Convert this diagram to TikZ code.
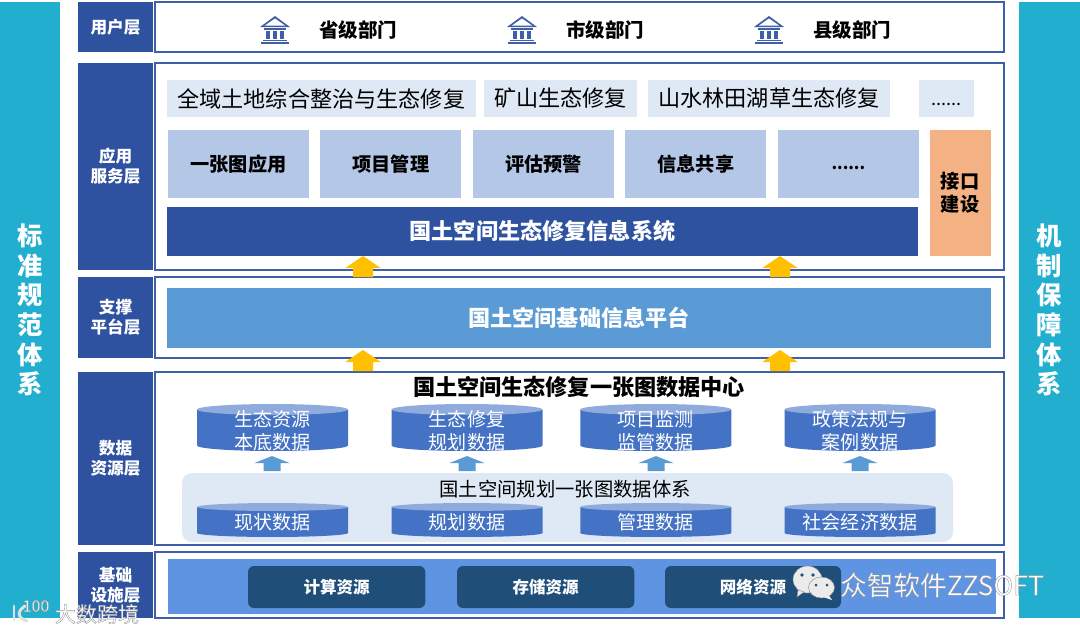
\documentclass[tikz,border=0pt]{standalone}
\usepackage{fontspec}
\setmainfont{Noto Sans CJK SC}
\usetikzlibrary{positioning}
\definecolor{sidecyan}{HTML}{21AECF}
\definecolor{layerblue}{HTML}{2F52A0}
\definecolor{framecolor}{HTML}{3F5FA6}
\definecolor{lightcell}{HTML}{DEE9F5}
\definecolor{midcell}{HTML}{B4C7E7}
\definecolor{orangecell}{HTML}{F4B183}
\definecolor{platblue}{HTML}{5B9BD5}
\definecolor{dbbody}{HTML}{4472C4}
\definecolor{dbtop}{HTML}{8FAADC}
\definecolor{basefill}{HTML}{5F94E2}
\definecolor{darkcell}{HTML}{1F4E79}
\definecolor{upyellow}{HTML}{FFC000}
\definecolor{markgray}{HTML}{8A8A8A}
\newcommand{\outlinetext}[1]{\special{pdf:literal direct 2 Tr 0.3 w 0.6 G}#1\special{pdf:literal direct 0 Tr}}
\tikzset{
  side/.style={
    fill=sidecyan, text=white, align=center, inner sep=0pt, outer sep=0pt,
    font=\fontsize{19pt}{22.3pt}\selectfont\bfseries,
    minimum width=45pt, minimum height=462pt, anchor=north west,
  },
  layerlbl/.style={
    fill=layerblue, text=white, align=center, inner sep=0pt, outer sep=0pt,
    font=\fontsize{12.5pt}{15pt}\selectfont\bfseries,
    minimum width=56.25pt,
  },
  frame/.style={
    draw=framecolor, line width=1.3pt, fill=white, inner sep=0pt, outer sep=0pt,
    minimum width=636.75pt,
  },
  scene/.style={
    fill=lightcell, inner sep=0pt, outer sep=0pt, minimum height=27.75pt,
    font=\fontsize{16.6pt}{20pt}\selectfont,
  },
  func/.style={
    fill=midcell, inner sep=0pt, outer sep=0pt,
    minimum width=105.75pt, minimum height=51pt,
    font=\fontsize{14.4pt}{17pt}\selectfont\bfseries,
  },
  bar/.style={
    fill=#1, text=white, inner sep=0pt, outer sep=0pt, anchor=north west,
    font=\fontsize{16.6pt}{20pt}\selectfont\bfseries,
  },
  dbcyl/.pic={
    \fill[dbbody] (-75.5,-#1) -- (-75.5,#1)
      arc[start angle=180, end angle=0, x radius=75.5, y radius=.305*#1]
      -- (75.5,-#1) -- cycle;
    \fill[dbtop] (0,-#1) ellipse (75.5 and .305*#1);
  },
  dbtxt/.style={
    text=white, align=center, inner sep=0pt,
    font=\fontsize{14.3pt}{17.2pt}\selectfont,
  },
  res/.style={
    fill=darkcell, text=white, rounded corners=4.5pt, inner sep=0pt, outer sep=0pt,
    minimum height=31.5pt, minimum width=133pt, anchor=north west,
    font=\fontsize{12.4pt}{15pt}\selectfont\bfseries,
  },
  uparrow/.pic={
    \fill[upyellow] (0,0) -- (17.75,12) -- (10,12) -- (10,21) -- (-10,21) -- (-10,12) -- (-17.75,12) -- cycle;
  },
  minarrow/.pic={
    \fill[platblue] (0,0) -- (17.5,7) -- (8.5,7) -- (8.5,15) -- (-8.5,15) -- (-8.5,7) -- (-17.5,7) -- cycle;
  },
  bank/.pic={
    \fill[framecolor] (-15,-3) -- (0,-14) -- (15,-3) -- cycle;
    \fill[white] (-10,-4.5) -- (0,-11.5) -- (10,-4.5) -- cycle;
    \fill[framecolor] (-11,-2) rectangle (11,0);
    \fill[framecolor] (-9,1) rectangle (-5,9);
    \fill[framecolor] (-2,1) rectangle (2,9);
    \fill[framecolor] (5,1) rectangle (9,9);
    \fill[framecolor] (-12,10) rectangle (12,11);
    \fill[framecolor] (-14,12) rectangle (14,14);
  },
}
\begin{document}
\begin{tikzpicture}[x=0.75pt,y=-0.75pt]
  \useasboundingbox (0,0) rectangle (1080,633);

  \node[side] (std) at (0,2) {标\\准\\规\\范\\体\\系};
  \node[side, minimum width=45.75pt] (mech) at (1019,2) {机\\制\\保\\障\\体\\系};

  \node[layerlbl, minimum height=37.5pt, anchor=north west] (user) at (78,2) {用户层};
  \node[layerlbl, minimum height=155.25pt, below=8.25pt of user] (app) {应用\\服务层};
  \node[layerlbl, minimum height=60.75pt, below=5.25pt of app] (sup) {支撑\\平台层};
  \node[layerlbl, minimum height=129.75pt, below=10.5pt of sup] (data) {数据\\资源层};
  \node[layerlbl, minimum height=49.5pt, below=5.25pt of data] (base) {基础\\设施层};

  \node[frame, minimum height=37.5pt, right=1.5pt of user] (userbox) {};
  \node[frame, minimum height=155.25pt, right=1.5pt of app] (appbox) {};
  \node[frame, minimum height=60.75pt, right=1.5pt of sup] (supbox) {};
  \node[frame, minimum height=129.75pt, right=1.5pt of data] (databox) {};
  \node[frame, minimum height=49.5pt, right=1.5pt of base] (basebox) {};

  \pic at (275,30) {bank};
  \pic at (522,30) {bank};
  \pic at (769,30) {bank};
  \node[font=\fontsize{14.6pt}{17pt}\selectfont\bfseries] (prov) at (358,30) {省级部门};
  \node[font=\fontsize{14.6pt}{17pt}\selectfont\bfseries] (city) at (605,30) {市级部门};
  \node[font=\fontsize{14.6pt}{17pt}\selectfont\bfseries] (county) at (852,30) {县级部门};

  \node[scene, minimum width=231.4pt, anchor=north west] (sc1) at (167,80) {全域土地综合整治与生态修复};
  \node[scene, minimum width=114.75pt, right=6.4pt of sc1] (sc2) {矿山生态修复};
  \node[scene, minimum width=181.5pt, right=8.25pt of sc2] (sc3) {山水林田湖草生态修复};
  \node[scene, minimum width=41.6pt, right=21.4pt of sc3,
        font=\fontsize{13.5pt}{16pt}\selectfont, text height=12pt, text depth=2pt] (sc4) {......};

  \node[func, anchor=north west] (fn1) at (168,130) {一张图应用};
  \node[func, right=8.6pt of fn1] (fn2) {项目管理};
  \node[func, right=8.6pt of fn2] (fn3) {评估预警};
  \node[func, right=8.6pt of fn3] (fn4) {信息共享};
  \node[func, right=8.6pt of fn4,
        font=\fontsize{12pt}{14pt}\selectfont\bfseries, text height=10pt, text depth=2pt] (fn5) {......};
  \node[func, fill=orangecell, align=center, anchor=north west,
        minimum width=46pt, minimum height=94.5pt] (iface) at (929.5,130) {接口\\建设};

  \node[bar=layerblue, minimum width=563.25pt, minimum height=36.75pt] (sys) at (167,207) {国土空间生态修复信息系统};
  \node[bar=platblue, minimum width=618pt, minimum height=45pt] (plat) at (167,288) {国土空间基础信息平台};

  \pic (up1) at (363,256) {uparrow};
  \pic (up2) at (780,256) {uparrow};
  \pic (up3) at (363,350) {uparrow};
  \pic (up4) at (780,350) {uparrow};

  \node[font=\fontsize{16.6pt}{20pt}\selectfont\bfseries] (dctitle) at (579,387) {国土空间生态修复一张图数据中心};

  \pic at (272.5,427.5) {dbcyl=18};
  \pic at (467,427.5) {dbcyl=18};
  \pic at (655.75,427.5) {dbcyl=18};
  \pic at (860,427.5) {dbcyl=18};
  \node[dbtxt] (db1) at (272.5,430.5) {生态资源\\本底数据};
  \node[dbtxt] (db2) at (467,430.5) {生态修复\\规划数据};
  \node[dbtxt] (db3) at (655.75,430.5) {项目监测\\监管数据};
  \node[dbtxt] (db4) at (860,430.5) {政策法规与\\案例数据};

  \pic (mid1) at (272,456) {minarrow};
  \pic (mid2) at (467,456) {minarrow};
  \pic (mid3) at (656,456) {minarrow};
  \pic (mid4) at (860,456) {minarrow};

  \node[fill=lightcell, rounded corners=7.5pt, inner sep=0pt, outer sep=0pt,
        minimum width=578.25pt, minimum height=51.75pt, anchor=north west] (sysbg) at (182,473) {};
  \node[dbtxt, text=black, font=\fontsize{14.5pt}{17pt}\selectfont] (systitle) at (565,489) {国土空间规划一张图数据体系};

  \pic at (272.5,520) {dbcyl=13};
  \pic at (467,520) {dbcyl=13};
  \pic at (655.75,520) {dbcyl=13};
  \pic at (860,520) {dbcyl=13};
  \node[dbtxt] (cur) at (272.5,522.5) {现状数据};
  \node[dbtxt] (plan) at (467,522.5) {规划数据};
  \node[dbtxt] (mgmt) at (655.75,522.5) {管理数据};
  \node[dbtxt] (econ) at (860,522.5) {社会经济数据};

  \node[bar=basefill, minimum width=621pt, minimum height=41.25pt] (infra) at (168,559) {};
  \node[res] (comp) at (248,566) {计算资源};
  \node[res] (stor) at (457,566) {存储资源};
  \node[res, minimum width=132pt] (net) at (665,566) {网络资源};

  \fill[white!92!black, draw=markgray, line width=.3pt] (807.5,579.5) ellipse (14.5 and 13.5);
  \fill[white!92!black, draw=markgray, line width=.3pt] (798,590) -- (797,597) -- (804,592) -- cycle;
  \fill[white!92!black, draw=markgray, line width=.3pt] (821.5,587.5) ellipse (13 and 10.5);
  \fill[white!92!black] (828,594) -- (832,600) -- (823,597) -- cycle;
  \fill[darkcell] (802,575) circle (1.8) (813,575) circle (1.8) (816,585) circle (1.5) (827,585) circle (1.5);
  \node[text=white, font=\fontsize{20pt}{23pt}\selectfont] (zz) at (942,585) {\outlinetext{众智软件ZZSOFT}};

  \draw[white!88!black, line width=2.2pt, line cap=round] (14,606) -- (14,620);
  \draw[white!88!black, line width=2.2pt, line cap=round] (25,606) .. controls (17,611) and (17,618) .. (27,621);
  \node[text=white, font=\fontsize{12pt}{14pt}\selectfont] (kj100) at (36,606) {\outlinetext{100}};
  \node[text=white, font=\fontsize{15.8pt}{19pt}\selectfont] (kj) at (97,614) {\outlinetext{大数跨境}};
\end{tikzpicture}
\end{document}
